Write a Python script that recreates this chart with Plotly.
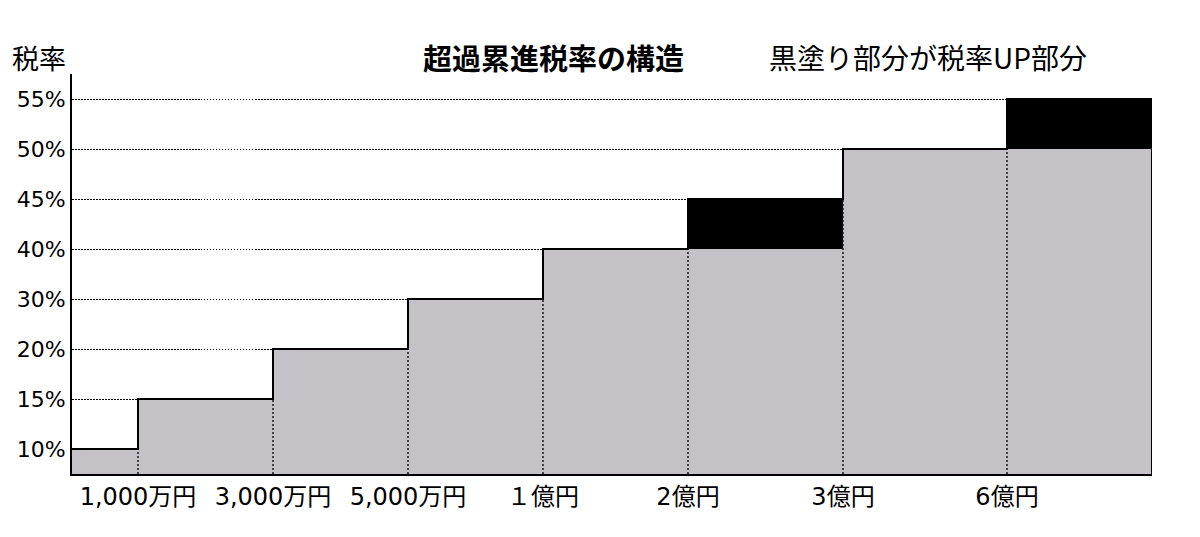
import plotly.graph_objects as go

# ---- data ----
rate_ticks = [10, 15, 20, 30, 40, 45, 50, 55]
rate_labels = ["10%", "15%", "20%", "30%", "40%", "45%", "50%", "55%"]
old_rates = [10, 15, 20, 30, 40, 40, 50, 50]
new_rates = [10, 15, 20, 30, 40, 45, 50, 55]
bracket_labels = ["1,000万円", "3,000万円", "5,000万円", "１億円", "2億円", "3億円", "6億円"]
# bracket boundaries on the (non-linear) income axis
x_edges = [0, 66, 201, 336, 471, 616, 771, 935, 1080]

FONT = "Noto Sans CJK JP"
TICKFONT = "DejaVu Sans, Noto Sans CJK JP"
GRAY = "rgb(196,194,198)"

lvl = lambda r: rate_ticks.index(r) + 1
lefts = x_edges[:-1]
rights = x_edges[1:]
centers = [(a + b) / 2 for a, b in zip(lefts, rights)]
widths = [b - a for a, b in zip(lefts, rights)]
old_lv = [lvl(r) for r in old_rates]
new_lv = [lvl(r) for r in new_rates]

fig = go.Figure()

# gray base (current tax rate)
fig.add_trace(go.Bar(x=centers, y=old_lv, base=[0] * len(centers), width=widths,
                     marker=dict(color=GRAY, line=dict(width=0)),
                     showlegend=False, hoverinfo="skip"))
# black increase part
inc_idx = [i for i in range(len(old_lv)) if new_lv[i] > old_lv[i]]
fig.add_trace(go.Bar(x=[centers[i] for i in inc_idx],
                     y=[new_lv[i] - old_lv[i] for i in inc_idx],
                     base=[old_lv[i] for i in inc_idx],
                     width=[widths[i] for i in inc_idx],
                     marker=dict(color="black", line=dict(width=0)),
                     showlegend=False, hoverinfo="skip"))

# vertical dotted separators
vx, vy = [], []
for i in range(1, len(x_edges) - 1):
    vx += [x_edges[i], x_edges[i], None]
    vy += [0.5, min(new_lv[i - 1], new_lv[i]), None]
fig.add_trace(go.Scatter(x=vx, y=vy, mode="lines",
                         line=dict(color="#222", width=1.6, dash="2px,2px"),
                         showlegend=False, hoverinfo="skip"))

# step outline
sx, sy = [], []
for a, b, v in zip(lefts, rights, new_lv):
    sx += [a, b]
    sy += [v, v]
sx.append(x_edges[-1])
sy.append(0.5)
fig.add_trace(go.Scatter(x=sx, y=sy, mode="lines",
                         line=dict(color="black", width=2),
                         showlegend=False, hoverinfo="skip"))

ytop = 1 + (74 - 57) / 400
fig.update_layout(
    width=1200, height=537,
    margin=dict(l=72, r=48, t=74, b=63),
    plot_bgcolor="white", paper_bgcolor="white",
    barmode="overlay",
    font=dict(family=FONT, color="black", size=20),
    xaxis=dict(range=[x_edges[0], x_edges[-1]], tickvals=x_edges[1:-1], ticktext=bracket_labels,
               showgrid=False, zeroline=False, showline=True, linecolor="black", linewidth=2,
               ticks="", tickfont=dict(size=24, family=TICKFONT)),
    yaxis=dict(range=[0.5, len(rate_ticks) + 0.5], tickvals=list(range(1, len(rate_ticks) + 1)),
               ticktext=rate_labels, showgrid=True, gridcolor="#000", griddash="1.5px,1.5px", gridwidth=1.2,
               zeroline=False, showline=True, linecolor="black", linewidth=2,
               ticks="", tickfont=dict(size=22, family=TICKFONT)),
    annotations=[
        dict(text="税率", xref="paper", yref="paper", x=(39 - 72) / 1080, y=ytop,
             xanchor="center", yanchor="middle",
             showarrow=False, font=dict(size=27, family=FONT)),
        dict(text="<b>超過累進税率の構造</b>", xref="paper", yref="paper", x=(553 - 72) / 1080,
             y=ytop, xanchor="center", yanchor="middle",
             showarrow=False, font=dict(size=29, family=FONT)),
        dict(text="黒塗り部分が税率UP部分", xref="paper", yref="paper", x=(928 - 72) / 1080,
             y=ytop, xanchor="center", yanchor="middle",
             showarrow=False, font=dict(size=28, family=FONT)),
    ],
)

fig.write_html("out.html")
